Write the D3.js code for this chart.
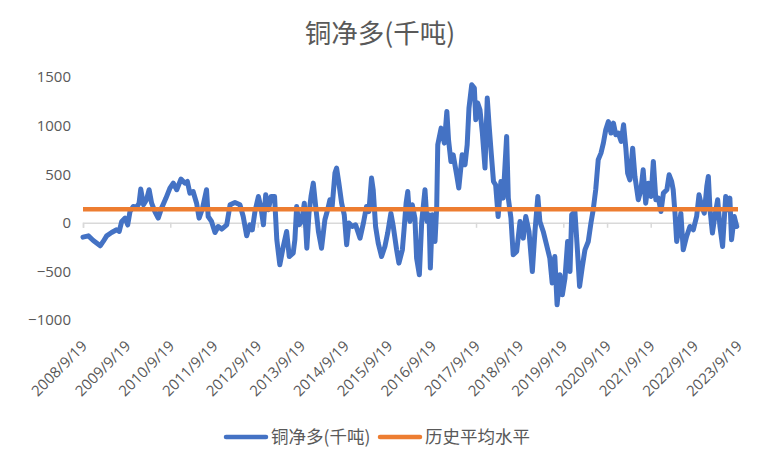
<!DOCTYPE html>
<html><head><meta charset="utf-8">
<script src="https://cdn.jsdelivr.net/npm/d3@7"></script>
<style>html,body{margin:0;padding:0;background:#fff;}</style>
</head><body>
<svg id="chart" width="760" height="466"></svg>
<script>
const title = "铜净多(千吨)";
const seriesNames = ["铜净多(千吨)", "历史平均水平"];
const dates = ["2008-09-19","2008-11-03","2008-12-14","2009-02-10","2009-03-07","2009-04-05","2009-05-16","2009-06-27","2009-07-19","2009-08-09","2009-09-06","2009-09-28","2009-10-17","2009-11-14","2009-12-12","2010-01-01","2010-01-15","2010-02-07","2010-03-04","2010-03-26","2010-04-16","2010-05-13","2010-06-10","2010-07-08","2010-08-14","2010-09-16","2010-10-14","2010-11-12","2010-12-17","2011-01-20","2011-02-09","2011-03-02","2011-03-29","2011-04-27","2011-05-18","2011-06-16","2011-07-19","2011-08-02","2011-08-30","2011-09-28","2011-10-25","2011-11-23","2012-01-04","2012-02-01","2012-03-13","2012-04-24","2012-05-21","2012-06-19","2012-07-16","2012-08-05","2012-08-27","2012-09-25","2012-10-17","2012-11-06","2012-11-25","2012-12-17","2013-01-09","2013-02-07","2013-02-26","2013-03-23","2013-04-21","2013-05-19","2013-06-10","2013-07-13","2013-07-27","2013-08-11","2013-08-30","2013-09-22","2013-10-14","2013-11-04","2013-11-22","2013-12-09","2013-12-28","2014-01-20","2014-02-09","2014-03-07","2014-04-04","2014-04-27","2014-05-16","2014-06-04","2014-06-27","2014-07-11","2014-07-30","2014-08-22","2014-09-13","2014-10-03","2014-10-22","2014-11-19","2014-12-17","2015-01-23","2015-02-20","2015-03-18","2015-04-07","2015-04-29","2015-05-13","2015-06-02","2015-06-24","2015-07-22","2015-08-19","2015-09-11","2015-10-08","2015-10-28","2015-11-25","2015-12-14","2016-01-12","2016-01-26","2016-02-12","2016-02-26","2016-03-15","2016-04-04","2016-04-26","2016-05-10","2016-06-02","2016-06-22","2016-07-19","2016-08-05","2016-08-22","2016-09-02","2016-09-19","2016-10-11","2016-10-25","2016-11-03","2016-12-01","2016-12-28","2017-01-18","2017-02-01","2017-02-21","2017-03-12","2017-04-10","2017-04-28","2017-05-26","2017-06-19","2017-07-07","2017-07-22","2017-08-14","2017-09-05","2017-09-17","2017-10-03","2017-10-22","2017-11-11","2017-12-03","2017-12-22","2018-01-06","2018-01-23","2018-02-12","2018-03-02","2018-03-23","2018-04-15","2018-05-04","2018-06-02","2018-06-16","2018-07-08","2018-07-27","2018-08-25","2018-09-22","2018-10-19","2018-11-09","2018-12-06","2019-01-03","2019-01-25","2019-02-18","2019-03-07","2019-04-04","2019-05-02","2019-05-29","2019-06-18","2019-07-10","2019-07-29","2019-08-22","2019-09-11","2019-10-03","2019-10-25","2019-11-14","2019-11-28","2019-12-25","2020-01-16","2020-02-02","2020-02-25","2020-03-18","2020-04-15","2020-05-07","2020-05-26","2020-06-16","2020-07-07","2020-07-30","2020-08-19","2020-09-08","2020-09-30","2020-10-22","2020-11-11","2020-12-01","2020-12-22","2021-01-15","2021-02-04","2021-02-23","2021-03-10","2021-03-29","2021-04-21","2021-05-10","2021-06-07","2021-06-29","2021-07-18","2021-08-08","2021-08-30","2021-09-22","2021-10-11","2021-11-01","2021-11-22","2021-12-14","2022-01-03","2022-02-01","2022-02-20","2022-03-13","2022-03-26","2022-04-10","2022-04-24","2022-05-13","2022-05-29","2022-06-18","2022-07-16","2022-08-13","2022-09-10","2022-10-08","2022-10-28","2022-11-20","2022-12-11","2023-01-01","2023-01-14","2023-01-28","2023-02-17","2023-03-09","2023-04-02","2023-04-21","2023-05-13","2023-06-08","2023-06-24","2023-07-13","2023-07-27","2023-08-19","2023-09-08"];
const netLong = [-147,-134,-182,-237,-192,-134,-100,-72,-89,14,48,-21,116,168,161,202,347,185,237,340,202,116,48,151,254,357,408,340,450,408,425,305,322,202,48,151,340,65,14,-100,-38,-65,-21,185,209,185,65,-134,-21,-72,116,271,151,-21,288,134,271,271,-175,-432,-244,-89,-347,-312,-175,168,-21,14,202,-261,99,271,408,134,-89,-261,31,134,237,168,511,563,408,202,82,-226,-3,-38,-21,-158,-3,168,116,460,340,-38,-209,-347,-244,-106,99,-38,-278,-415,-278,-72,200,322,14,185,48,-363,-535,14,340,14,82,-466,82,-192,151,803,974,820,1145,854,631,700,494,357,700,597,803,1180,1420,1386,1060,1232,1163,923,563,1283,1008,734,425,391,65,425,254,888,254,48,-329,-295,14,-158,65,-89,-501,-89,271,14,-89,-226,-363,-620,-347,-844,-535,-741,-569,-192,-501,82,116,-300,-655,-450,-278,-192,-3,134,340,648,717,820,957,1042,923,1026,906,923,837,1008,768,511,442,768,477,237,340,545,202,408,271,631,237,254,116,305,340,494,425,340,99,-192,-55,99,-278,-141,-38,-72,65,288,168,99,374,477,134,-106,65,237,-38,-244,271,134,254,-175,65,-38];
const historicalAvg = 140;
const xTickLabels = ["2008/9/19","2009/9/19","2010/9/19","2011/9/19","2012/9/19","2013/9/19","2014/9/19","2015/9/19","2016/9/19","2017/9/19","2018/9/19","2019/9/19","2020/9/19","2021/9/19","2022/9/19","2023/9/19"];
const yTicks = [-1000,-500,0,500,1000,1500];

const parse = d3.timeParse("%Y-%m-%d");
const parseLabel = d3.timeParse("%Y/%m/%d");
const data = dates.map((d,i)=>({date:parse(d), value:netLong[i]}));
const tickDates = xTickLabels.map(s=>parseLabel(s));

const svg = d3.select("#chart");
const margin = {left:83, right:22, top:77, bottom:146};
const W = 760, H = 466;
const x = d3.scaleTime().domain([tickDates[0], tickDates[tickDates.length-1]]).range([margin.left, W - margin.right]);
const y = d3.scaleLinear().domain([-1000,1500]).range([H - margin.bottom, margin.top]);

const grey = "#595959";
const axisFont = "'Open Sans', sans-serif";
const cjkFont = "'Noto Sans CJK SC', sans-serif";

// title
svg.append("text").attr("x", 380).attr("y", 43).attr("text-anchor","middle")
  .attr("font-family", cjkFont).attr("font-size", 26.5).attr("fill", grey).text(title);

// y axis labels
const yAxis = d3.axisLeft(y).tickValues(yTicks).tickSize(0).tickPadding(12).tickFormat(d3.format("d"));
const gy = svg.append("g").attr("transform", `translate(${margin.left},0)`).call(yAxis);
gy.select(".domain").remove();
gy.selectAll("text").attr("font-family", axisFont).attr("font-size", 15).attr("fill", grey);

// x axis at zero
const xAxis = d3.axisBottom(x).tickValues(tickDates).tickSize(5).tickFormat("");
const gx = svg.append("g").attr("transform", `translate(0,${y(0)})`).call(xAxis);
gx.select(".domain").attr("stroke", "#d9d9d9").attr("stroke-width", 1.5);
gx.selectAll(".tick line").attr("stroke", "#d9d9d9").attr("stroke-width", 1.5);

// x labels (low position)
svg.append("g").selectAll("text").data(tickDates).join("text")
  .attr("transform", (d)=>`translate(${x(d)+5},${y(-1000)+27}) rotate(-45)`)
  .attr("text-anchor","end")
  .attr("font-family", axisFont).attr("font-size", 15).attr("fill", grey)
  .text((d,i)=>xTickLabels[i]);

// lines
const line = d3.line().x(d=>x(d.date)).y(d=>y(d.value));
svg.append("path").datum(data).attr("d", line).attr("fill","none")
  .attr("stroke","#4472C4").attr("stroke-width",5).attr("stroke-linejoin","round").attr("stroke-linecap","round");
const avgData = [{date:tickDates[0], value:historicalAvg},{date:tickDates[tickDates.length-1], value:historicalAvg}];
svg.append("path").datum(avgData).attr("d", line).attr("fill","none")
  .attr("stroke","#ED7D31").attr("stroke-width",4.5);

// legend
const legend = svg.append("g");
const items = [{name:seriesNames[0], color:"#4472C4", x:226},{name:seriesNames[1], color:"#ED7D31", x:380}];
items.forEach(it=>{
  legend.append("line").attr("x1", it.x).attr("x2", it.x+40).attr("y1",437).attr("y2",437)
    .attr("stroke", it.color).attr("stroke-width",4.5).attr("stroke-linecap","round");
  legend.append("text").attr("x", it.x+45).attr("y",437).attr("dy","0.35em")
    .attr("font-family", cjkFont).attr("font-size",17.5).attr("fill",grey).text(it.name);
});
</script>
</body></html>
